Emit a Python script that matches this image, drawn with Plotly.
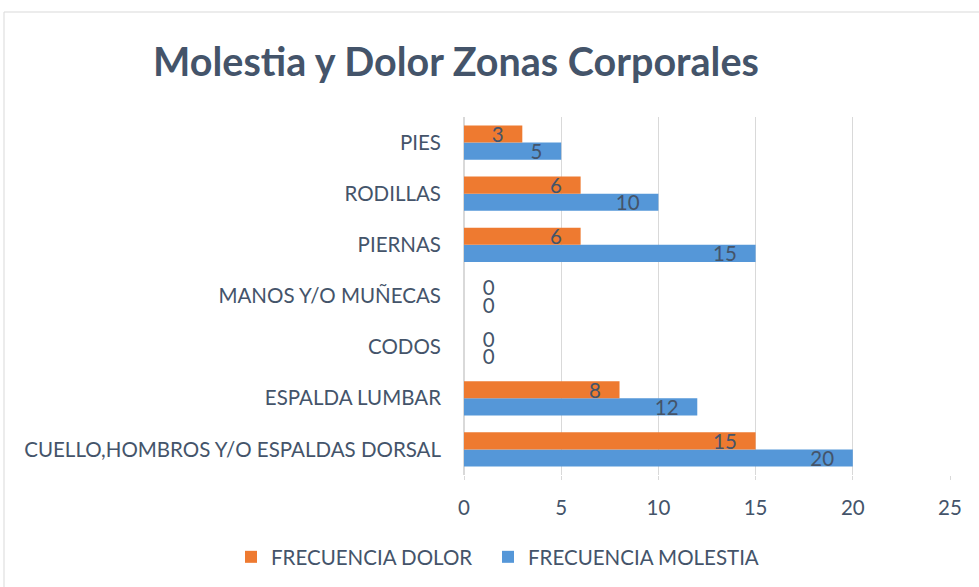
import plotly.graph_objects as go

categories = ["CUELLO,HOMBROS Y/O ESPALDAS DORSAL", "ESPALDA LUMBAR", "CODOS",
              "MANOS Y/O MUÑECAS", "PIERNAS", "RODILLAS", "PIES"]
frecuencia_molestia = [20, 12, 0, 0, 15, 10, 5]
frecuencia_dolor = [15, 8, 0, 0, 6, 6, 3]
x_ticks = [0, 5, 10, 15, 20, 25]

TXT = "#44546A"
FONT = "Lato"
FS = 20.5
NB = "\u00a0"

def labels(vals):
    return [(f"{v}{NB*3}" if v != 0 else f"{NB*3}{v}") for v in vals]

def positions(vals):
    return ["inside" if v != 0 else "outside" for v in vals]

fig = go.Figure()
fig.add_trace(go.Bar(
    y=categories, x=frecuencia_molestia, orientation="h", name="FRECUENCIA MOLESTIA",
    marker=dict(color="#5597D8", line=dict(width=0)),
    text=labels(frecuencia_molestia), textposition=positions(frecuencia_molestia),
    insidetextanchor="end", constraintext="none", cliponaxis=False,
    textfont=dict(color=TXT, size=FS, family=FONT), legend="legend2",
))
fig.add_trace(go.Bar(
    y=categories, x=frecuencia_dolor, orientation="h", name="FRECUENCIA DOLOR",
    marker=dict(color="#EE7A30", line=dict(width=0)),
    text=labels(frecuencia_dolor), textposition=positions(frecuencia_dolor),
    insidetextanchor="end", constraintext="none", cliponaxis=False,
    textfont=dict(color=TXT, size=FS, family=FONT), legend="legend",
))

L, R, T, B = 464, 29, 117, 112
W, H = 979, 587
pw, ph = W - L - R, H - T - B

def px(x):
    return (x - L) / pw

def py(y):
    return (H - B - y) / ph

fig.add_shape(type="rect", xref="paper", yref="paper",
              x0=px(4), x1=px(990), y0=py(600), y1=py(12),
              line=dict(color="#D9D9D9", width=1), fillcolor="rgba(0,0,0,0)", layer="below")

leg = dict(orientation="h", xanchor="left", yanchor="middle", y=py(557),
           font=dict(size=FS, color=TXT, family=FONT), itemwidth=30,
           bgcolor="rgba(0,0,0,0)")

fig.update_layout(
    width=W, height=H,
    margin=dict(l=L, r=R, t=T, b=B, autoexpand=False),
    paper_bgcolor="white", plot_bgcolor="white",
    barmode="group", bargap=0.33, bargroupgap=0,
    title=dict(text="<b>Molestia y Dolor Zonas Corporales</b>",
               font=dict(family=FONT, size=39.5, color=TXT),
               x=456 / W, xanchor="center", y=1 - 62 / H, yanchor="middle"),
    font=dict(family=FONT, color=TXT, size=FS),
    xaxis=dict(range=[0, 25], tickvals=x_ticks, showgrid=True, gridcolor="#D9D9D9",
               gridwidth=1, zeroline=True, zerolinecolor="#D9D9D9", showline=False,
               ticks="outside", ticklen=4, tickcolor="#D9D9D9", automargin=False,
               ticklabelstandoff=10, tickfont=dict(size=FS, color=TXT, family=FONT)),
    yaxis=dict(categoryorder="array", categoryarray=categories, showgrid=False,
               zeroline=False, showline=False, ticks="", ticklabelstandoff=22,
               automargin=False, tickfont=dict(size=FS, color=TXT, family=FONT)),
    legend=dict(leg, x=px(231)),
    legend2=dict(leg, x=px(488)),
    showlegend=True,
)

fig.write_html("out.html", post_script="document.body.style.margin='0';",
               config={"displayModeBar": False})
